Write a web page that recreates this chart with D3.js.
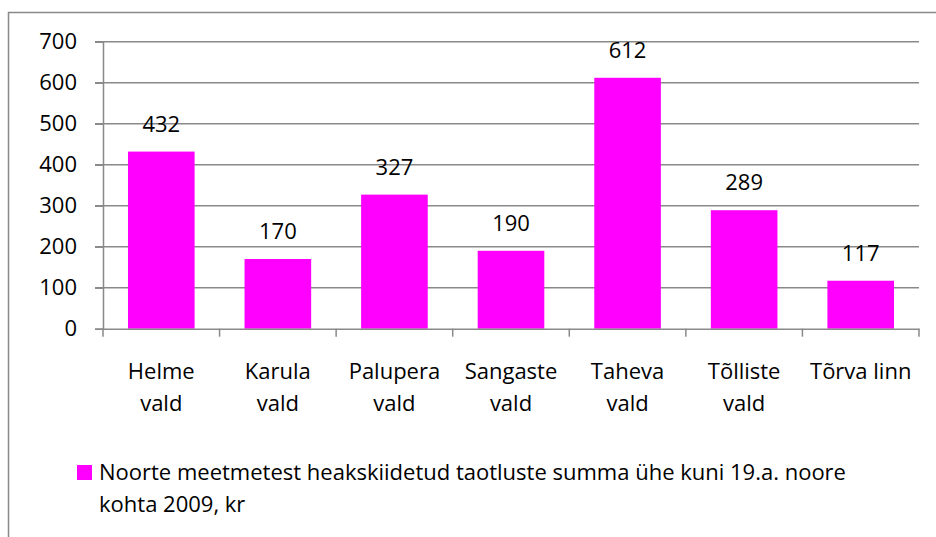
<!DOCTYPE html>
<html>
<head>
<meta charset="utf-8">
<script src="https://cdn.jsdelivr.net/npm/d3@7"></script>
<style>
  body { margin: 0; background: #fff; }
  text { font-family: "Open Sans", sans-serif; fill: #000; }
</style>
</head>
<body>
<svg width="936" height="537"></svg>
<script>
var categories = [["Helme", "vald"], ["Karula", "vald"], ["Palupera", "vald"], ["Sangaste", "vald"],
                  ["Taheva", "vald"], ["Tõlliste", "vald"], ["Tõrva linn"]];
var values = [432, 170, 327, 190, 612, 289, 117];
var yTicks = [0, 100, 200, 300, 400, 500, 600, 700];
var legendLines = ["Noorte meetmetest heakskiidetud taotluste summa ühe kuni 19.a. noore",
                   "kohta 2009, kr"];

var svg = d3.select("svg"),
    plotLeft = 103, plotRight = 919, plotTop = 41.7, plotBottom = 328.7,
    fs = 22;

// chart frame (runs off the right and bottom edges)
svg.append("rect")
    .attr("x", 8.5).attr("y", 12.5)
    .attr("width", 940).attr("height", 540)
    .attr("fill", "none").attr("stroke", "#898989").attr("stroke-width", 1.5);

var x = d3.scaleBand()
    .domain(d3.range(categories.length))
    .range([plotLeft, plotRight])
    .paddingInner(0.75 / 1.75).paddingOuter(0.75 / 3.5);

var xCat = d3.scaleBand().domain(d3.range(categories.length)).range([plotLeft, plotRight]);

var y = d3.scaleLinear().domain([0, 700]).range([plotBottom, plotTop]);

// gridlines
svg.append("g").selectAll("line")
  .data(yTicks.slice(1))
  .enter().append("line")
    .attr("x1", plotLeft - 8).attr("x2", plotRight)
    .attr("y1", function(d) { return y(d); })
    .attr("y2", function(d) { return y(d); })
    .attr("stroke", "#898989").attr("stroke-width", 1.5);

// bars
svg.append("g").selectAll("rect")
  .data(values)
  .enter().append("rect")
    .attr("x", function(d, i) { return x(i); })
    .attr("width", x.bandwidth())
    .attr("y", function(d) { return y(d); })
    .attr("height", function(d) { return y(0) - y(d); })
    .attr("fill", "#ff00ff");

// value labels
svg.append("g").selectAll("text")
  .data(values)
  .enter().append("text")
    .attr("x", function(d, i) { return x(i) + x.bandwidth() / 2; })
    .attr("y", function(d) { return y(d) - 20; })
    .attr("text-anchor", "middle")
    .style("font-size", fs + "px")
    .text(function(d) { return d; });

// y axis
var yAxis = svg.append("g")
    .attr("transform", "translate(" + plotLeft + ",0)")
    .call(d3.axisLeft(y).tickValues(yTicks).tickSize(8).tickPadding(18));
yAxis.select(".domain").attr("stroke", "#898989").attr("stroke-width", 1.5);
yAxis.selectAll(".tick line").attr("stroke", "#898989").attr("stroke-width", 1.5);
yAxis.selectAll(".tick text").style("font-size", fs + "px").attr("fill", "#000")
    .style("font-family", "'Open Sans', sans-serif");

// x axis
var xAxis = svg.append("g")
    .attr("transform", "translate(0," + plotBottom + ")")
    .call(d3.axisBottom(xCat).tickSize(0).tickFormat(""));
xAxis.select(".domain").attr("stroke", "#898989").attr("stroke-width", 1.5);
xAxis.selectAll(".tick").remove();
xAxis.selectAll("line.sep")
  .data(d3.range(categories.length + 1))
  .enter().append("line")
    .attr("x1", function(i) { return plotLeft + i * xCat.step(); })
    .attr("x2", function(i) { return plotLeft + i * xCat.step(); })
    .attr("y1", 0).attr("y2", 8)
    .attr("stroke", "#898989").attr("stroke-width", 1.5);

var catText = svg.append("g").selectAll("text")
  .data(categories)
  .enter().append("text")
    .attr("text-anchor", "middle")
    .attr("x", function(d, i) { return xCat(i) + xCat.bandwidth() / 2; })
    .attr("y", 379)
    .style("font-size", fs + "px");
catText.selectAll("tspan")
  .data(function(d) { return d; })
  .enter().append("tspan")
    .attr("x", function() { return d3.select(this.parentNode).attr("x"); })
    .attr("dy", function(d, i) { return i === 0 ? 0 : 32; })
    .text(function(d) { return d; });

// legend
svg.append("rect")
    .attr("x", 77).attr("y", 465).attr("width", 15).attr("height", 15)
    .attr("fill", "#ff00ff");
svg.append("g").selectAll("text")
  .data(legendLines)
  .enter().append("text")
    .attr("x", 99)
    .attr("y", function(d, i) { return 480 + i * 32; })
    .style("font-size", fs + "px")
    .text(function(d) { return d; });
</script>
</body>
</html>
